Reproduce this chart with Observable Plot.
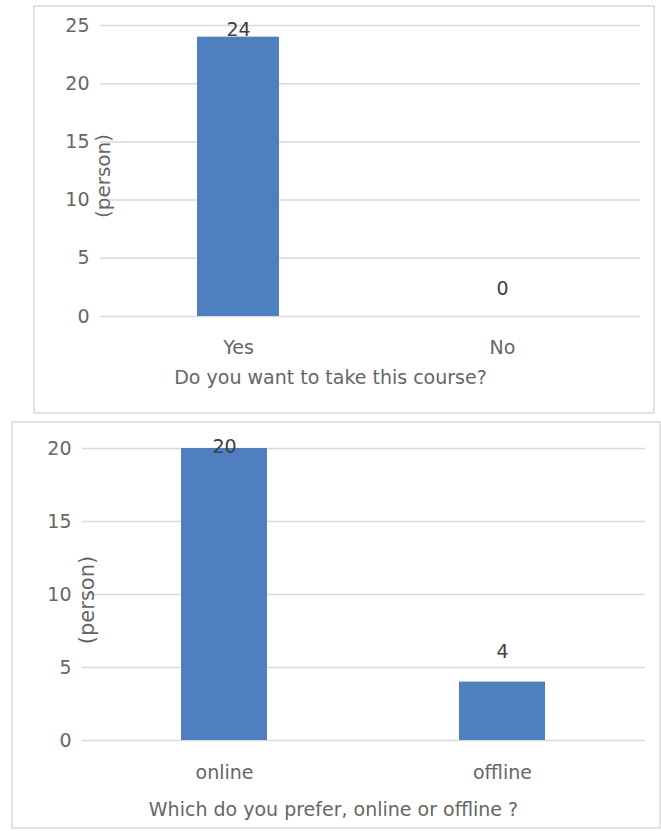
<!DOCTYPE html>
<html>
<head>
<meta charset="utf-8">
<script src="https://cdn.jsdelivr.net/npm/d3@7"></script>
<script src="https://cdn.jsdelivr.net/npm/@observablehq/plot@0.6"></script>
<style>
  html, body { margin: 0; padding: 0; background: #fff; }
  body { width: 661px; height: 831px; position: relative; overflow: hidden; font-family: "DejaVu Sans", sans-serif; }
  .box { position: absolute; border: 2px solid #e3e3e3; box-sizing: border-box; }
  .chart { position: absolute; left: 0; }
  .title { position: absolute; left: 0; width: 661px; text-align: center; font-size: 19px; color: #666; line-height: 24px; white-space: nowrap; }
  .ylab { position: absolute; font-size: 20px; color: #666; white-space: nowrap; transform: translate(-50%, -50%) rotate(-90deg); line-height: 22px; }
</style>
</head>
<body>
<div class="box" style="left:33px; top:5px; width:622px; height:409px;"></div>
<div class="box" style="left:11px; top:421px; width:650px; height:408px;"></div>
<div id="c1" class="chart" style="top:0px;"></div>
<div id="c2" class="chart" style="top:420px;"></div>
<div class="title" style="top:365px; left:0px;">Do you want to take this course?</div>
<div class="title" style="top:797px; left:3px;">Which do you prefer, online or offline ?</div>
<div class="ylab" style="left:103px; top:176px;">(person)</div>
<div class="ylab" style="left:87px; top:600px; font-size:21px;">(person)</div>
<script>
// Chart 1 data
const categories1 = ["Yes", "No"];
const values1 = [24, 0];
const yTicks1 = [0, 5, 10, 15, 20, 25];

// Chart 2 data
const categories2 = ["online", "offline"];
const values2 = [20, 4];
const yTicks2 = [0, 5, 10, 15, 20];

const barColor = "#4f7fbe";
const gridColor = "#d9d9d9";

function makeChart({cats, vals, ticks, yMax, height, mt, mb, ml, mr, pi, po, xPad, tallDy, shortDy}) {
  const data = cats.map((c, i) => ({cat: c, value: vals[i]}));
  return Plot.plot({
    width: 661,
    height,
    marginTop: mt,
    marginBottom: mb,
    marginLeft: ml,
    marginRight: mr,
    style: {fontFamily: "'DejaVu Sans', sans-serif", fontSize: "19px", color: "#666", background: "transparent", overflow: "visible"},
    x: {domain: cats, paddingInner: pi, paddingOuter: po},
    y: {domain: [0, yMax]},
    marks: [
      Plot.ruleY(ticks, {stroke: gridColor, strokeWidth: 1.5}),
      Plot.barY(data, {x: "cat", y: "value", fill: barColor}),
      Plot.text(data.filter(d => d.value > yMax / 2), {x: "cat", y: "value", text: d => String(d.value), dy: tallDy, fill: "#404040", fontSize: 19}),
      Plot.text(data.filter(d => d.value <= yMax / 2), {x: "cat", y: "value", text: d => String(d.value), dy: shortDy, fill: "#404040", fontSize: 19}),
      Plot.axisY({ticks, tickSize: 0, tickPadding: 11, label: null, fontSize: 19}),
      Plot.axisX({tickSize: 0, tickPadding: xPad, label: null, fontSize: 19})
    ]
  });
}

document.getElementById("c1").appendChild(makeChart({
  cats: categories1, vals: values1, ticks: yTicks1, yMax: 25,
  height: 390, mt: 25, mb: 74, ml: 100, mr: 21, pi: 0.69, po: 0.3675, xPad: 24,
  tallDy: -7, shortDy: -28
}));

document.getElementById("c2").appendChild(makeChart({
  cats: categories2, vals: values2, ticks: yTicks2, yMax: 20,
  height: 390, mt: 28, mb: 70, ml: 82, mr: 16, pi: 0.69, po: 0.354, xPad: 25,
  tallDy: -2, shortDy: -30
}));
</script>
</body>
</html>
